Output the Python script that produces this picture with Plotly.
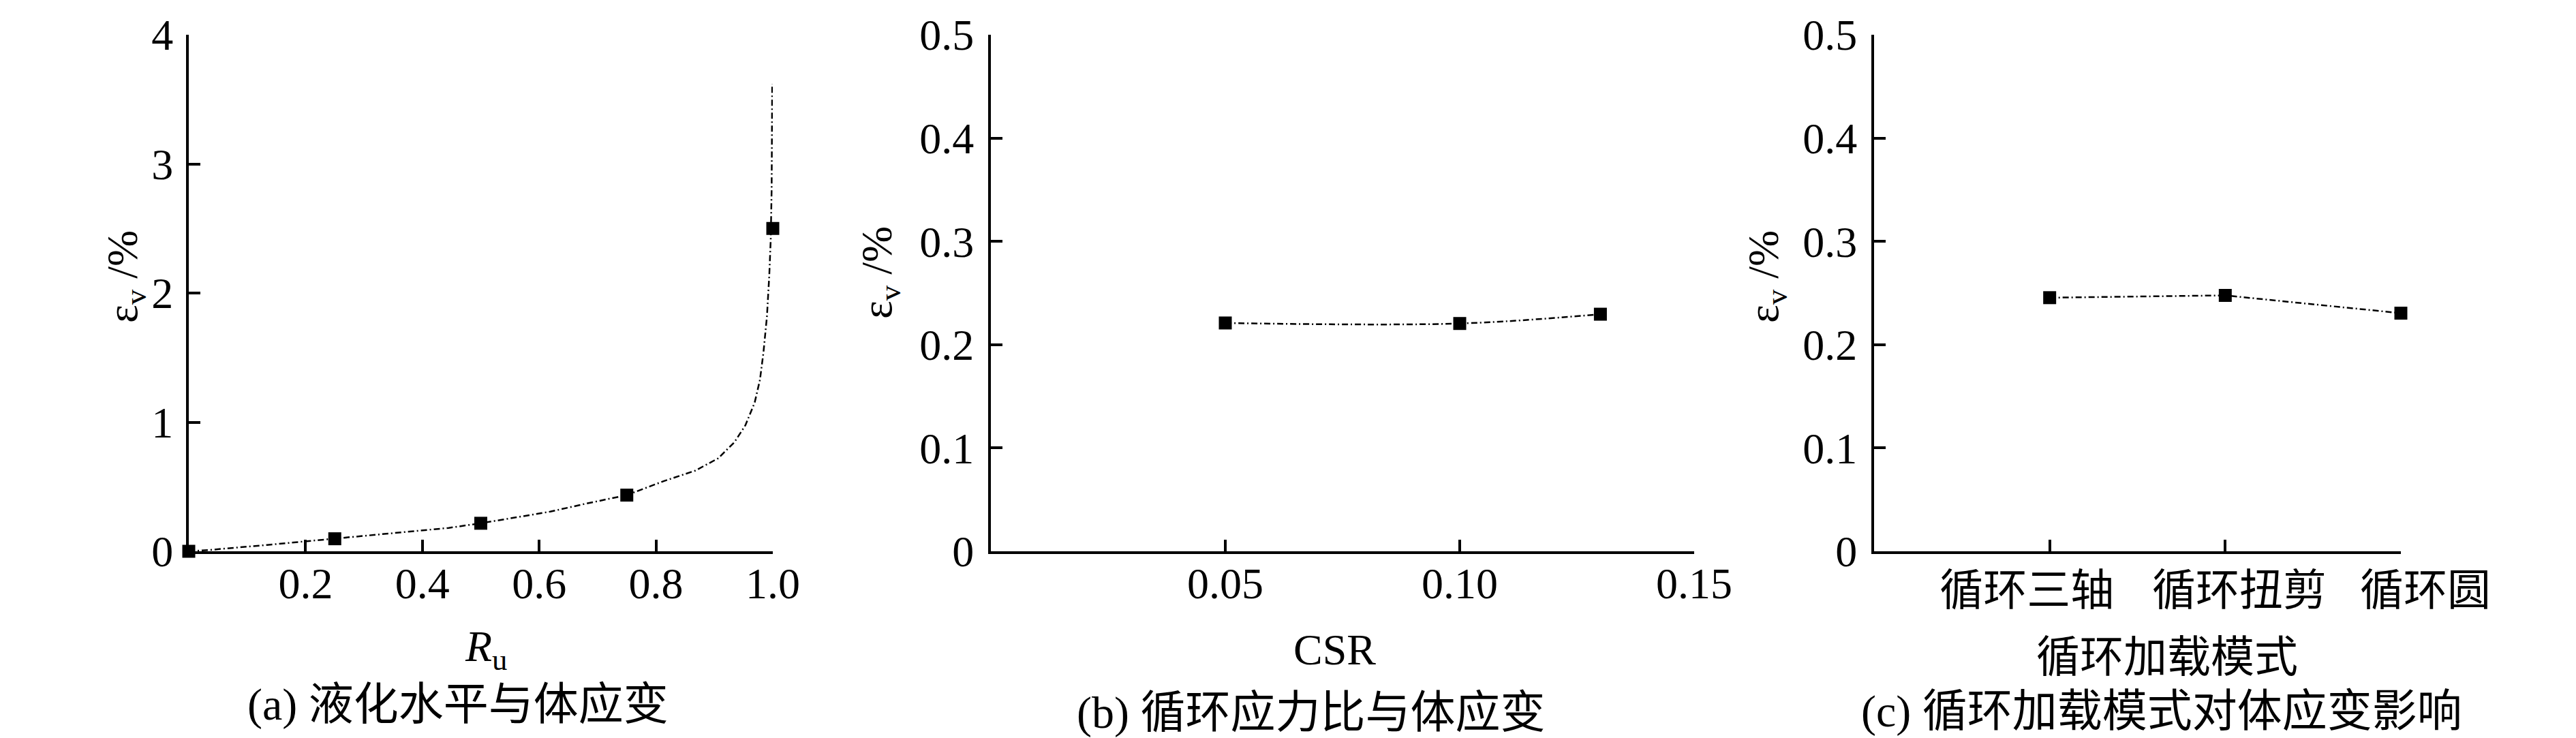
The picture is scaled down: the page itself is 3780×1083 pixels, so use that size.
import plotly.graph_objects as go

# ---------------- data ----------------
# (a) liquefaction level vs volumetric strain
ru_pts = [0.0, 0.25, 0.50, 0.75, 1.00]
ev_pts_a = [0.0, 0.097, 0.217, 0.435, 2.50]
# dash-dot fitted curve
ru_curve = [0.0, 0.037, 0.134, 0.25, 0.328, 0.445, 0.50, 0.619, 0.678, 0.75, 0.813,
            0.867, 0.9065, 0.934, 0.953, 0.969, 0.978, 0.984, 0.990, 0.994, 0.9965,
            0.998, 0.999]
ev_curve = [0.0, 0.011, 0.049, 0.097, 0.132, 0.181, 0.217, 0.307, 0.367, 0.435, 0.543,
            0.624, 0.72, 0.843, 0.975, 1.152, 1.328, 1.54, 1.82, 2.14, 2.42,
            2.80, 3.62]

# (b) cyclic stress ratio vs volumetric strain
csr = [0.05, 0.10, 0.13]
ev_b = [0.221, 0.2205, 0.2295]

# (c) loading mode vs volumetric strain
modes = ["循环三轴", "循环扭剪", "循环圆"]
mode_pos = [1, 2, 3]
ev_c = [0.2455, 0.2477, 0.2305]
# where the printed category labels sit (they are spread a little wider than the ticks)
mode_label_pos = [0.87, 2.08, 3.14]

ticks_a_x = [0.2, 0.4, 0.6, 0.8, 1.0]
ticks_a_x_txt = ["0.2", "0.4", "0.6", "0.8", "1.0"]
ticks_a_y = [0, 1, 2, 3, 4]
ticks_b_x = [0.05, 0.10, 0.15]
ticks_b_x_txt = ["0.05", "0.10", "0.15"]
ticks_bc_y = [0, 0.1, 0.2, 0.3, 0.4, 0.5]
ticks_bc_y_txt = ["0", "0.1", "0.2", "0.3", "0.4", "0.5"]

# ---------------- figure ----------------
W, H = 3780, 1083
SERIF = "Liberation Serif, Times New Roman, serif"
CJK = "Liberation Serif, Noto Sans CJK SC, serif"
DASH = "9px,4px,2px,4px"

def px(x):
    return x / W

def py(y):
    return 1 - y / H

fig = go.Figure()

line_style = dict(color="black", width=2.5, dash=DASH)
marker_style = dict(symbol="square", size=19, color="black")

fig.add_trace(go.Scatter(x=ru_curve, y=ev_curve, mode="lines", line=line_style,
                         xaxis="x", yaxis="y", showlegend=False, cliponaxis=False))
fig.add_trace(go.Scatter(x=ru_pts, y=ev_pts_a, mode="markers", marker=marker_style,
                         xaxis="x", yaxis="y", showlegend=False, cliponaxis=False))
fig.add_trace(go.Scatter(x=csr, y=ev_b, mode="lines+markers",
                         line=dict(color="black", width=2.5, dash=DASH, shape="spline"),
                         marker=marker_style, xaxis="x2", yaxis="y2", showlegend=False,
                         cliponaxis=False))
fig.add_trace(go.Scatter(x=mode_pos, y=ev_c, mode="lines+markers", line=line_style,
                         marker=marker_style, xaxis="x3", yaxis="y3", showlegend=False,
                         cliponaxis=False))
# empty trace so the category-label axis (x4) gets its subplot drawn
fig.add_trace(go.Scatter(x=mode_label_pos, y=[None] * len(mode_label_pos), mode="none",
                         xaxis="x4", yaxis="y3", showlegend=False, hoverinfo="skip"))

ydom = [py(801), py(43)]
common = dict(showline=True, linecolor="black", linewidth=4, ticks="inside",
              ticklen=17, tickwidth=4, tickcolor="black", showgrid=False,
              zeroline=False, tickfont=dict(family=SERIF, size=64, color="black"),
              fixedrange=True, automargin=False, tickangle=0)

# panel (c): x3 spans units 0..3 over px 2742..3515; the label axis x4 keeps the
# same units per pixel over a wider domain so the last label is not clipped
c_left, c_right, c_label_right = 2742, 3515, 3720
c_label_range = [0, 3 * (c_label_right - c_left) / (c_right - c_left)]

fig.update_layout(
    template="none",
    width=W, height=H, autosize=False,
    margin=dict(l=0, r=0, t=0, b=0, pad=0),
    paper_bgcolor="white", plot_bgcolor="rgba(0,0,0,0)",
    showlegend=False,
    xaxis=dict(common, domain=[px(269), px(1126)], range=[0, 1.0], anchor="y",
               tickmode="array", tickvals=ticks_a_x, ticktext=ticks_a_x_txt,
               ticklabelstandoff=-12),
    yaxis=dict(common, domain=ydom, range=[0, 4], anchor="x",
               tickmode="array", tickvals=ticks_a_y, ticktext=[str(v) for v in ticks_a_y],
               ticklabelstandoff=6),
    xaxis2=dict(common, domain=[px(1446), px(2478)], range=[0, 0.15], anchor="y2",
                tickmode="array", tickvals=ticks_b_x, ticktext=ticks_b_x_txt,
                ticklabelstandoff=-12),
    yaxis2=dict(common, domain=ydom, range=[0, 0.5], anchor="x2",
                tickmode="array", tickvals=ticks_bc_y, ticktext=ticks_bc_y_txt,
                ticklabelstandoff=8),
    xaxis3=dict(common, domain=[px(c_left), px(c_right)], range=[0, 3], anchor="y3",
                tickmode="array", tickvals=mode_pos, ticktext=modes,
                showticklabels=False),
    xaxis4=dict(domain=[px(c_left), px(c_label_right)], range=c_label_range,
                anchor="y3", showline=False, showgrid=False,
                zeroline=False, ticks="", tickmode="array", tickvals=mode_label_pos,
                ticktext=modes, tickangle=0, automargin=False, fixedrange=True,
                tickfont=dict(family=CJK, size=64, color="black"),
                ticklabelstandoff=14),
    yaxis3=dict(common, domain=ydom, range=[0, 0.5], anchor="x3",
                tickmode="array", tickvals=ticks_bc_y, ticktext=ticks_bc_y_txt,
                ticklabelstandoff=8),
)

def ann(text, x, y, size=64, family=SERIF, angle=0):
    fig.add_annotation(text=text, x=px(x), y=py(y), xref="paper", yref="paper",
                       xanchor="center", yanchor="middle", showarrow=False,
                       textangle=angle, font=dict(family=family, size=size, color="black"))

# axis titles
ann("<i>R</i><sub>u</sub>", 705, 945, size=64)
ann("CSR", 1950, 945, size=64)
ann("循环加载模式", 3172, 956, size=64, family=CJK)
ylab = "ε<sub>v</sub> /%"
ann(ylab, 176, 398, size=64, angle=-90)
ann(ylab, 1283, 392, size=64, angle=-90)
ann(ylab, 2584, 398, size=64, angle=-90)

# captions
ann("(a) 液化水平与体应变", 664, 1026, size=66, family=CJK)
ann("(b) 循环应力比与体应变", 1915, 1038, size=66, family=CJK)
ann("(c) 循环加载模式对体应变影响", 3164, 1036, size=66, family=CJK)

fig.write_html("out.html")
